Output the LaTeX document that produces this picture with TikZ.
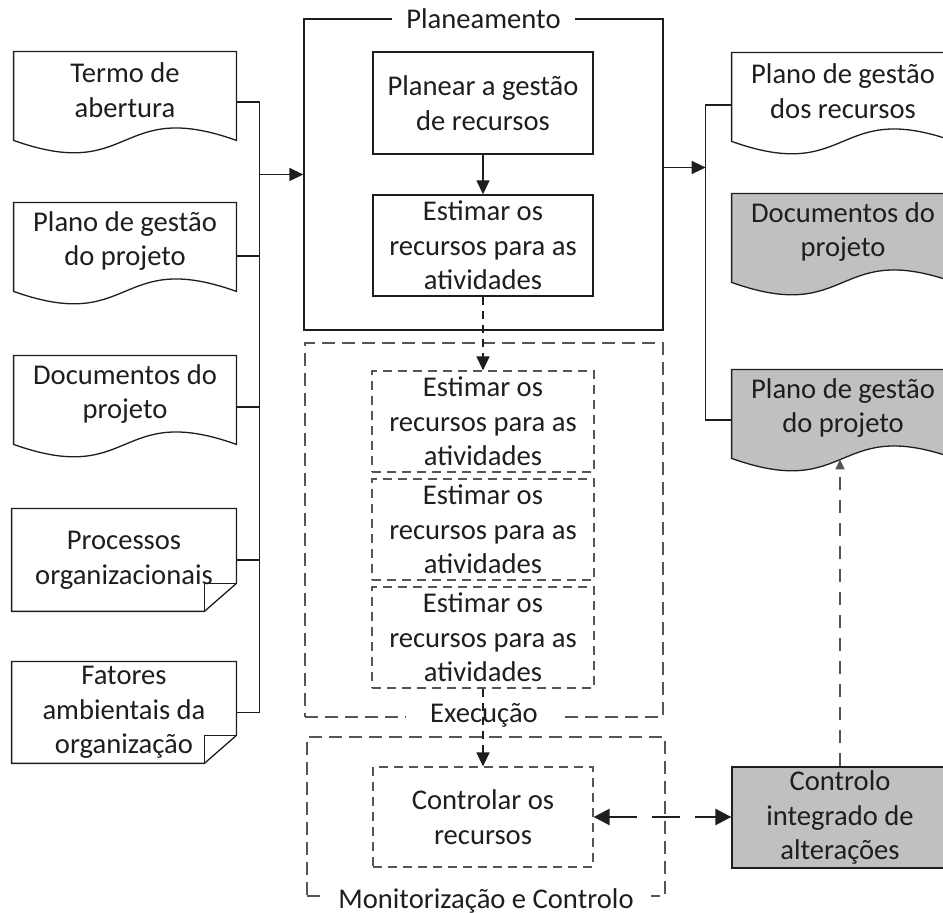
\documentclass[tikz,border=0pt]{standalone}
\usepackage{fontspec}
\setmainfont{Carlito}
\usetikzlibrary{arrows.meta,calc}
\pgfdeclarelayer{background}
\pgfsetlayers{background,main}

\definecolor{ink}{RGB}{30,30,30}
\definecolor{dashgray}{RGB}{85,85,85}
\definecolor{docgray}{RGB}{192,192,192}

\tikzset{
  txt/.style={font=\fontsize{14.3pt}{17.3pt}\selectfont, text=ink, align=center, inner sep=0pt},
  docbody/.style={txt, rectangle, minimum width=111pt, minimum height=38pt},
  foldbody/.style={txt, rectangle, minimum width=112pt},
  procbox/.style={txt, rectangle, draw=ink, line width=0.65pt},
  dprocbox/.style={txt, rectangle, draw=dashgray, line width=0.6pt, dash pattern=on 4.5pt off 3pt},
  solidframe/.style={rectangle, draw=ink, line width=0.65pt, inner sep=0pt},
  dashframe/.style={rectangle, draw=dashgray, line width=0.75pt, dash pattern=on 6.5pt off 3.5pt, inner sep=0pt},
  frametitle/.style={txt, fill=white, inner ysep=1pt},
  conn/.style={draw=ink, line width=0.65pt},
  dconn/.style={draw=ink, line width=0.65pt, dash pattern=on 4pt off 3pt},
  arr/.style={-{Triangle[length=7pt,width=6.5pt]}},
  bidir/.style={draw=ink, line width=1.25pt, dash pattern=on 14pt off 7.5pt,
                {Triangle[length=8pt,width=8pt]}-{Triangle[length=8pt,width=8pt]}},
  upconn/.style={draw=dashgray, line width=0.65pt, dash pattern=on 6.5pt off 5pt,
                 -{Triangle[length=5pt,width=4.5pt]}},
  outline/.style={draw=ink, line width=0.65pt}
}

% document with a wavy lower edge, drawn round a named body node
\newcommand{\wavedoc}[2]{%
  \path[outline, fill=#2] (#1.north west) -- (#1.north east)
    -- ($(#1.south east)+(0,12)$)
    .. controls +(-120,-43) and +(120,43) .. ($(#1.south west)+(0,12)$) -- cycle;}

% sheet with a folded lower right corner
\newcommand{\folddoc}[1]{%
  \path[outline, fill=white] (#1.north west) -- (#1.north east)
    -- ($(#1.south east)+(0,-28)$) -- ($(#1.south east)+(-32,0)$)
    -- (#1.south west) -- cycle;
  \path[outline] ($(#1.south east)+(-32,0)$) -- ($(#1.south east)+(-32,-28)$)
    -- ($(#1.south east)+(0,-28)$);}

\begin{document}
\begin{tikzpicture}[x=0.5pt,y=-0.5pt]
\useasboundingbox (0,0) rectangle (943,913);
\clip (0,0) rectangle (943,913);

% inputs
\node[docbody] (termo) at (125,90)  {Termo de\\abertura};
\node[docbody] (pgpl)  at (125,241) {Plano de gestão\\do projeto};
\node[docbody] (docl)  at (125,394) {Documentos do\\projeto};
\node[foldbody, minimum height=51pt]   (proc) at (124,560)   {Processos\\organizacionais};
\node[foldbody, minimum height=50.5pt] (fat)  at (124,712.5) {Fatores\\ambientais da\\organização};

% outputs
\node[docbody] (pgr)  at (843,91)  {Plano de gestão\\dos recursos};
\node[docbody] (docr) at (843,232) {Documentos do\\projeto};
\node[docbody] (pgp)  at (843,408) {Plano de gestão\\do projeto};

\begin{pgfonlayer}{background}
  \wavedoc{termo}{white}
  \wavedoc{pgpl}{white}
  \wavedoc{docl}{white}
  \wavedoc{pgr}{white}
  \wavedoc{docr}{docgray}
  \wavedoc{pgp}{docgray}
  \folddoc{proc}
  \folddoc{fat}
\end{pgfonlayer}

% planning group
\node[solidframe, minimum width=179.5pt, minimum height=155.5pt] (plan) at (483.5,174.5) {};
\node[frametitle, inner xsep=7pt] (plant) at (plan.north) {Planeamento};
\node[procbox, minimum width=110pt, minimum height=51pt]   (planear) at (483,103)   {Planear a gestão\\de recursos};
\node[procbox, minimum width=110pt, minimum height=50.5pt] (est0)    at (483,245.5) {Estimar os\\recursos para as\\atividades};

% execution group
\node[dashframe, minimum width=179pt, minimum height=187pt] (exe) at (484,530) {};
\node[frametitle, inner xsep=12pt] (exet) at ($(exe.south)+(0,-2)$) {Execução};
\node[dprocbox, minimum width=111pt, minimum height=50.5pt] (est1) at (483,421.5) {Estimar os\\recursos para as\\atividades};
\node[dprocbox, minimum width=111pt, minimum height=50.5pt] (est2) at (483,529.5) {Estimar os\\recursos para as\\atividades};
\node[dprocbox, minimum width=111pt, minimum height=50.5pt] (est3) at (483,637.5) {Estimar os\\recursos para as\\atividades};

% monitoring group
\node[dashframe, minimum width=179pt, minimum height=79.5pt] (mon) at (486,816.5) {};
\node[frametitle, inner xsep=8.5pt] (mont) at ($(mon.south)+(0,4)$) {Monitorização e Controlo};
\node[dprocbox, minimum width=110pt, minimum height=50pt] (ctrl) at (483,817) {Controlar os\\recursos};

\node[procbox, fill=docgray, minimum width=108pt, minimum height=50.5pt] (cia) at (840,817.5) {Controlo\\integrado de\\alterações};

% input bus
\coordinate (bl) at ($(plan.west)+(-44,0)$);
\draw[conn] ($(termo.east)+(0,12)$) -| (bl);
\draw[conn] ($(pgpl.east)+(0,15)$) -| (bl);
\draw[conn] ($(docl.east)+(0,13)$) -| (bl);
\draw[conn] (proc.east) -| (bl);
\draw[conn] (fat.east) -| (bl);
\draw[conn, arr] (bl) -- (plan.west);

% output bus
\coordinate (br) at ($(plan.east)+(42,-7)$);
\draw[conn, arr] (plan.east |- br) -- (br);
\draw[conn] (br) |- ($(pgr.west)+(0,14)$);
\draw[conn] (br) |- ($(pgp.west)+(0,12)$);

% process flow
\draw[conn, arr] (planear) -- (est0);
\draw[dconn, arr] (est0) -- (est1);
\draw[dconn, arr] (est3) -- (ctrl);
\draw[bidir] (ctrl.east) -- (ctrl.east -| cia.west);
\coordinate (pgpw) at ($(pgp.south)+(0,13)$);
\draw[upconn] (cia.north) -- (cia.north |- pgpw);
\end{tikzpicture}
\end{document}
